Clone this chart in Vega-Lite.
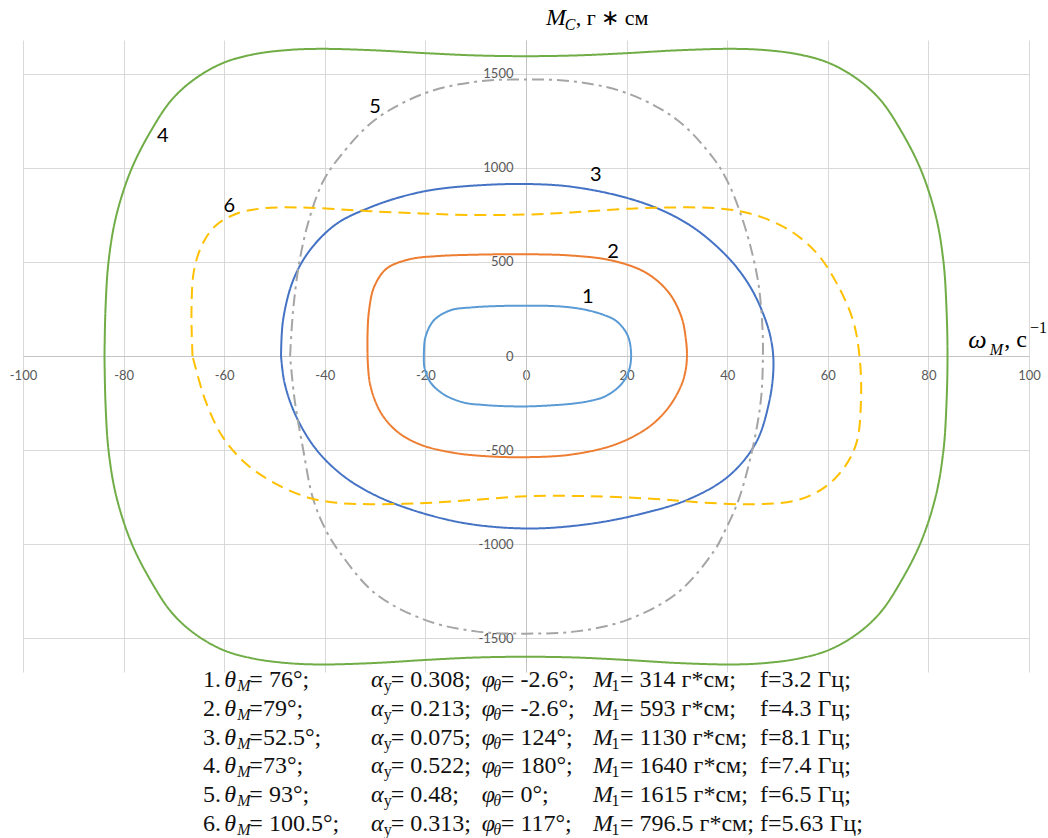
{
  "$schema": "https://vega.github.io/schema/vega-lite/v6.json",
  "width": 1006,
  "height": 632,
  "autosize": {"type": "none"},
  "padding": {"left": 23, "top": 40, "right": 19, "bottom": 166},
  "background": "white",
  "config": {"view": {"stroke": null}},
  "resolve": {"scale": {"x": "independent", "y": "independent"}},
  "layer": [
    {
      "encoding": {
        "x": {"field": "w", "type": "quantitative",
          "scale": {"domain": [-100, 100], "nice": false, "zero": false},
          "axis": {"values": [-100, -80, -60, -40, -20, 0, 20, 40, 60, 80, 100], "labelExpr": "'' + datum.value", "offset": -316, "grid": true, "gridColor": "#d9d9d9", "gridWidth": 1, "domainColor": "#c4c4c4", "domainWidth": 1, "ticks": false, "labelPadding": 13, "labelFont": "Lato", "labelFontSize": 13, "labelColor": "#595959", "title": null, "labelOverlap": false, "labelFlush": false, "labelBound": false}},
        "y": {"field": "m", "type": "quantitative",
          "scale": {"domain": [-1680, 1680], "nice": false, "zero": false},
          "axis": {"values": [-1500, -1000, -500, 0, 500, 1000, 1500], "labelExpr": "'' + datum.value", "offset": -503, "grid": true, "gridColor": "#d9d9d9", "gridWidth": 1, "domainColor": "#c4c4c4", "domainWidth": 1, "ticks": false, "labelPadding": 13, "labelFont": "Lato", "labelFontSize": 13, "labelColor": "#595959", "title": null, "labelOverlap": false, "labelFlush": false, "labelBound": false}}
      },
      "layer": [
        {
          "data": {"values": [
            {"c":"1","i":0,"w":-20.3,"m":0},{"c":"1","i":1,"w":-20,"m":100},{"c":"1","i":2,"w":-18.3,"m":190},{"c":"1","i":3,"w":-15,"m":243},{"c":"1","i":4,"w":-11,"m":258},{"c":"1","i":5,"w":-5,"m":266},{"c":"1","i":6,"w":0,"m":267},{"c":"1","i":7,"w":5,"m":266},{"c":"1","i":8,"w":9,"m":258},{"c":"1","i":9,"w":12.3,"m":243},{"c":"1","i":10,"w":15.5,"m":218},{"c":"1","i":11,"w":18,"m":185},{"c":"1","i":12,"w":20.2,"m":110},{"c":"1","i":13,"w":20.9,"m":0},{"c":"1","i":14,"w":20.3,"m":-90},{"c":"1","i":15,"w":18.6,"m":-160},{"c":"1","i":16,"w":15.7,"m":-215},{"c":"1","i":17,"w":12.5,"m":-240},{"c":"1","i":18,"w":9,"m":-254},{"c":"1","i":19,"w":4,"m":-264},{"c":"1","i":20,"w":0,"m":-268},{"c":"1","i":21,"w":-5,"m":-266},{"c":"1","i":22,"w":-8.5,"m":-260},{"c":"1","i":23,"w":-12.3,"m":-248},{"c":"1","i":24,"w":-16.3,"m":-205},{"c":"1","i":25,"w":-19,"m":-140},{"c":"1","i":26,"w":-20.2,"m":-60},{"c":"1","i":27,"w":-20.3,"m":0},
            {"c":"2","i":0,"w":-31.5,"m":0},{"c":"2","i":1,"w":-31.5,"m":120},{"c":"2","i":2,"w":-31.2,"m":243},{"c":"2","i":3,"w":-30.2,"m":367},{"c":"2","i":4,"w":-27.7,"m":465},{"c":"2","i":5,"w":-23,"m":515},{"c":"2","i":6,"w":-17.7,"m":531},{"c":"2","i":7,"w":-11,"m":538},{"c":"2","i":8,"w":0,"m":541},{"c":"2","i":9,"w":9,"m":534},{"c":"2","i":10,"w":17,"m":508},{"c":"2","i":11,"w":23.7,"m":445},{"c":"2","i":12,"w":28.3,"m":340},{"c":"2","i":13,"w":30.9,"m":208},{"c":"2","i":14,"w":31.8,"m":85},{"c":"2","i":15,"w":32,"m":0},{"c":"2","i":16,"w":31.7,"m":-80},{"c":"2","i":17,"w":30.8,"m":-160},{"c":"2","i":18,"w":28.3,"m":-275},{"c":"2","i":19,"w":24.3,"m":-380},{"c":"2","i":20,"w":17.7,"m":-471},{"c":"2","i":21,"w":9,"m":-524},{"c":"2","i":22,"w":0,"m":-538},{"c":"2","i":23,"w":-7.7,"m":-533},{"c":"2","i":24,"w":-14.3,"m":-515},{"c":"2","i":25,"w":-21,"m":-471},{"c":"2","i":26,"w":-25.7,"m":-400},{"c":"2","i":27,"w":-29,"m":-295},{"c":"2","i":28,"w":-31,"m":-150},{"c":"2","i":29,"w":-31.5,"m":0},
            {"c":"3","i":0,"w":-48.7,"m":0},{"c":"3","i":1,"w":-48.3,"m":190},{"c":"3","i":2,"w":-46.3,"m":402},{"c":"3","i":3,"w":-43,"m":561},{"c":"3","i":4,"w":-37.7,"m":702},{"c":"3","i":5,"w":-31,"m":790},{"c":"3","i":6,"w":-24.3,"m":850},{"c":"3","i":7,"w":-17.7,"m":887},{"c":"3","i":8,"w":-7.7,"m":910},{"c":"3","i":9,"w":1,"m":914},{"c":"3","i":10,"w":9,"m":900},{"c":"3","i":11,"w":19,"m":848},{"c":"3","i":12,"w":27,"m":775},{"c":"3","i":13,"w":33.7,"m":675},{"c":"3","i":14,"w":40.3,"m":520},{"c":"3","i":15,"w":44.3,"m":380},{"c":"3","i":16,"w":47,"m":235},{"c":"3","i":17,"w":48.7,"m":90},{"c":"3","i":18,"w":49.2,"m":-56},{"c":"3","i":19,"w":48.3,"m":-250},{"c":"3","i":20,"w":45.7,"m":-462},{"c":"3","i":21,"w":40.3,"m":-638},{"c":"3","i":22,"w":32.3,"m":-762},{"c":"3","i":23,"w":22.3,"m":-843},{"c":"3","i":24,"w":12.3,"m":-894},{"c":"3","i":25,"w":1,"m":-917},{"c":"3","i":26,"w":-11,"m":-894},{"c":"3","i":27,"w":-21,"m":-832},{"c":"3","i":28,"w":-29.7,"m":-744},{"c":"3","i":29,"w":-36.3,"m":-638},{"c":"3","i":30,"w":-41.7,"m":-497},{"c":"3","i":31,"w":-45.7,"m":-321},{"c":"3","i":32,"w":-48,"m":-144},{"c":"3","i":33,"w":-48.7,"m":0},
            {"c":"4","i":0,"w":-83.8,"m":0},{"c":"4","i":1,"w":-83.6,"m":250},{"c":"4","i":2,"w":-83,"m":500},{"c":"4","i":3,"w":-81.5,"m":741},{"c":"4","i":4,"w":-78.5,"m":990},{"c":"4","i":5,"w":-74.5,"m":1200},{"c":"4","i":6,"w":-70.5,"m":1360},{"c":"4","i":7,"w":-66,"m":1470},{"c":"4","i":8,"w":-60.3,"m":1557},{"c":"4","i":9,"w":-54.3,"m":1603},{"c":"4","i":10,"w":-47.7,"m":1626},{"c":"4","i":11,"w":-41,"m":1633},{"c":"4","i":12,"w":-30,"m":1625},{"c":"4","i":13,"w":-20,"m":1610},{"c":"4","i":14,"w":-10,"m":1598},{"c":"4","i":15,"w":0,"m":1594},{"c":"4","i":16,"w":10,"m":1598},{"c":"4","i":17,"w":20,"m":1610},{"c":"4","i":18,"w":30,"m":1625},{"c":"4","i":19,"w":41,"m":1633},{"c":"4","i":20,"w":47.7,"m":1626},{"c":"4","i":21,"w":54.3,"m":1603},{"c":"4","i":22,"w":60.3,"m":1557},{"c":"4","i":23,"w":66,"m":1470},{"c":"4","i":24,"w":70.5,"m":1360},{"c":"4","i":25,"w":74.5,"m":1200},{"c":"4","i":26,"w":78.5,"m":990},{"c":"4","i":27,"w":81.5,"m":741},{"c":"4","i":28,"w":83,"m":500},{"c":"4","i":29,"w":83.6,"m":250},{"c":"4","i":30,"w":83.8,"m":0},{"c":"4","i":31,"w":83.6,"m":-250},{"c":"4","i":32,"w":83,"m":-500},{"c":"4","i":33,"w":81.5,"m":-741},{"c":"4","i":34,"w":78.5,"m":-990},{"c":"4","i":35,"w":74.5,"m":-1200},{"c":"4","i":36,"w":70.5,"m":-1362},{"c":"4","i":37,"w":66,"m":-1474},{"c":"4","i":38,"w":60.3,"m":-1562},{"c":"4","i":39,"w":54.3,"m":-1608},{"c":"4","i":40,"w":47.7,"m":-1632},{"c":"4","i":41,"w":41,"m":-1640},{"c":"4","i":42,"w":30,"m":-1632},{"c":"4","i":43,"w":20,"m":-1616},{"c":"4","i":44,"w":10,"m":-1603},{"c":"4","i":45,"w":0,"m":-1599},{"c":"4","i":46,"w":-10,"m":-1603},{"c":"4","i":47,"w":-20,"m":-1616},{"c":"4","i":48,"w":-30,"m":-1632},{"c":"4","i":49,"w":-41,"m":-1640},{"c":"4","i":50,"w":-47.7,"m":-1632},{"c":"4","i":51,"w":-54.3,"m":-1608},{"c":"4","i":52,"w":-60.3,"m":-1562},{"c":"4","i":53,"w":-66,"m":-1474},{"c":"4","i":54,"w":-70.5,"m":-1362},{"c":"4","i":55,"w":-74.5,"m":-1200},{"c":"4","i":56,"w":-78.5,"m":-990},{"c":"4","i":57,"w":-81.5,"m":-741},{"c":"4","i":58,"w":-83,"m":-500},{"c":"4","i":59,"w":-83.6,"m":-250},{"c":"4","i":60,"w":-83.8,"m":0},
            {"c":"5","i":0,"w":-46.9,"m":0},{"c":"5","i":1,"w":-46.3,"m":243},{"c":"5","i":2,"w":-45,"m":508},{"c":"5","i":3,"w":-43,"m":737},{"c":"5","i":4,"w":-40.3,"m":930},{"c":"5","i":5,"w":-37,"m":1060},{"c":"5","i":6,"w":-30,"m":1256},{"c":"5","i":7,"w":-20,"m":1398},{"c":"5","i":8,"w":-10,"m":1458},{"c":"5","i":9,"w":0,"m":1470},{"c":"5","i":10,"w":10,"m":1458},{"c":"5","i":11,"w":20,"m":1398},{"c":"5","i":12,"w":30,"m":1256},{"c":"5","i":13,"w":37.3,"m":1050},{"c":"5","i":14,"w":40.3,"m":915},{"c":"5","i":15,"w":43,"m":730},{"c":"5","i":16,"w":45,"m":543},{"c":"5","i":17,"w":46.3,"m":367},{"c":"5","i":18,"w":47,"m":155},{"c":"5","i":19,"w":47.1,"m":0},{"c":"5","i":20,"w":46.7,"m":-233},{"c":"5","i":21,"w":45,"m":-497},{"c":"5","i":22,"w":42.3,"m":-762},{"c":"5","i":23,"w":39.7,"m":-921},{"c":"5","i":24,"w":37.3,"m":-1040},{"c":"5","i":25,"w":30,"m":-1262},{"c":"5","i":26,"w":20,"m":-1404},{"c":"5","i":27,"w":10,"m":-1464},{"c":"5","i":28,"w":0,"m":-1476},{"c":"5","i":29,"w":-10,"m":-1464},{"c":"5","i":30,"w":-20,"m":-1404},{"c":"5","i":31,"w":-30,"m":-1262},{"c":"5","i":32,"w":-37,"m":-1045},{"c":"5","i":33,"w":-39.7,"m":-930},{"c":"5","i":34,"w":-42.3,"m":-762},{"c":"5","i":35,"w":-44.3,"m":-497},{"c":"5","i":36,"w":-46,"m":-233},{"c":"5","i":37,"w":-46.9,"m":0},
            {"c":"6","i":0,"w":-66.3,"m":0},{"c":"6","i":1,"w":-66.5,"m":243},{"c":"6","i":2,"w":-66,"m":455},{"c":"6","i":3,"w":-64.3,"m":596},{"c":"6","i":4,"w":-61.7,"m":693},{"c":"6","i":5,"w":-57.7,"m":755},{"c":"6","i":6,"w":-52.3,"m":785},{"c":"6","i":7,"w":-45.7,"m":790},{"c":"6","i":8,"w":-39,"m":783},{"c":"6","i":9,"w":-31,"m":770},{"c":"6","i":10,"w":-21,"m":758},{"c":"6","i":11,"w":-11,"m":750},{"c":"6","i":12,"w":0,"m":752},{"c":"6","i":13,"w":9,"m":763},{"c":"6","i":14,"w":19,"m":781},{"c":"6","i":15,"w":29,"m":790},{"c":"6","i":16,"w":39,"m":783},{"c":"6","i":17,"w":45.5,"m":750},{"c":"6","i":18,"w":52.3,"m":670},{"c":"6","i":19,"w":57.7,"m":550},{"c":"6","i":20,"w":61.7,"m":390},{"c":"6","i":21,"w":65,"m":190},{"c":"6","i":22,"w":66.3,"m":0},{"c":"6","i":23,"w":66.6,"m":-233},{"c":"6","i":24,"w":65.7,"m":-462},{"c":"6","i":25,"w":63,"m":-603},{"c":"6","i":26,"w":59,"m":-705},{"c":"6","i":27,"w":53.7,"m":-768},{"c":"6","i":28,"w":45.7,"m":-788},{"c":"6","i":29,"w":35.7,"m":-780},{"c":"6","i":30,"w":25.7,"m":-760},{"c":"6","i":31,"w":12.3,"m":-745},{"c":"6","i":32,"w":0,"m":-746},{"c":"6","i":33,"w":-11,"m":-766},{"c":"6","i":34,"w":-21,"m":-783},{"c":"6","i":35,"w":-31,"m":-788},{"c":"6","i":36,"w":-37.7,"m":-780},{"c":"6","i":37,"w":-43,"m":-755},{"c":"6","i":38,"w":-49.7,"m":-680},{"c":"6","i":39,"w":-55.7,"m":-572},{"c":"6","i":40,"w":-60.3,"m":-430},{"c":"6","i":41,"w":-63.7,"m":-240},{"c":"6","i":42,"w":-66.3,"m":0}
          ]},
          "mark": {"type": "line", "interpolate": "catmull-rom", "strokeWidth": 2},
          "encoding": {
            "color": {"field": "c", "type": "nominal", "scale": {"domain": ["1","2","3","4","5","6"], "range": ["#5B9BD5","#ED7D31","#4472C4","#70AD47","#A5A5A5","#FFC000"]}, "legend": null},
            "strokeDash": {"field": "c", "type": "nominal", "scale": {"domain": ["1","2","3","4","5","6"], "range": [[1,0],[1,0],[1,0],[1,0],[12,5,3,5],[12,7]]}, "legend": null},
            "order": {"field": "i", "type": "quantitative"}
          }
        },
        {
          "data": {"values": [
            {"t":"1","w":12.3,"m":314},{"t":"2","w":17.3,"m":553},{"t":"3","w":13.9,"m":963},{"t":"4","w":-72.2,"m":1170},{"t":"5","w":-30,"m":1324},{"t":"6","w":-59,"m":798}
          ]},
          "mark": {"type": "text", "font": "Lato", "fontSize": 20, "color": "#000000", "align": "center", "baseline": "middle"},
          "encoding": {"text": {"field": "t"}}
        },
        {
          "data": {"values": [{"t":"ω","w":87.9,"m":85}]},
          "mark": {"type": "text", "font": "Liberation Serif", "fontStyle": "italic", "fontSize": 26, "color": "#000000", "align": "left", "baseline": "middle"},
          "encoding": {"text": {"field": "t"}}
        },
        {
          "data": {"values": [{"t":"M","w":92.2,"m":32}]},
          "mark": {"type": "text", "font": "Liberation Serif", "fontStyle": "italic", "fontSize": 16, "color": "#000000", "align": "left", "baseline": "middle"},
          "encoding": {"text": {"field": "t"}}
        },
        {
          "data": {"values": [{"t":", с","w":95.1,"m":85}]},
          "mark": {"type": "text", "font": "Liberation Serif", "fontSize": 24, "color": "#000000", "align": "left", "baseline": "middle"},
          "encoding": {"text": {"field": "t"}}
        },
        {
          "data": {"values": [{"t":"−1","w":100.2,"m":150}]},
          "mark": {"type": "text", "font": "Liberation Serif", "fontSize": 16, "color": "#000000", "align": "left", "baseline": "middle"},
          "encoding": {"text": {"field": "t"}}
        },
        {
          "data": {"values": [{"t":"M","w":4.0,"m":1798}]},
          "mark": {"type": "text", "font": "Liberation Serif", "fontStyle": "italic", "fontSize": 24, "color": "#000000", "align": "left", "baseline": "middle"},
          "encoding": {"text": {"field": "t"}}
        },
        {
          "data": {"values": [{"t":"C","w":7.7,"m":1762}]},
          "mark": {"type": "text", "font": "Liberation Serif", "fontStyle": "italic", "fontSize": 16, "color": "#000000", "align": "left", "baseline": "middle"},
          "encoding": {"text": {"field": "t"}}
        },
        {
          "data": {"values": [{"t":", г ∗ см","w":9.9,"m":1798}]},
          "mark": {"type": "text", "font": "Liberation Serif", "fontSize": 22, "color": "#000000", "align": "left", "baseline": "middle"},
          "encoding": {"text": {"field": "t"}}
        }
      ]
    },
    {
      "data": {"values": [
        {"line":1,"n":"1.","th":"= 76°;","al":"= 0.308;","ph":"= -2.6°;","m1":"= 314 г*см;","f":"f=3.2 Гц;"},
        {"line":2,"n":"2.","th":"=79°;","al":"= 0.213;","ph":"= -2.6°;","m1":"= 593 г*см;","f":"f=4.3 Гц;"},
        {"line":3,"n":"3.","th":"=52.5°;","al":"= 0.075;","ph":"= 124°;","m1":"= 1130 г*см;","f":"f=8.1 Гц;"},
        {"line":4,"n":"4.","th":"=73°;","al":"= 0.522;","ph":"= 180°;","m1":"= 1640 г*см;","f":"f=7.4 Гц;"},
        {"line":5,"n":"5.","th":"= 93°;","al":"= 0.48;","ph":"= 0°;","m1":"= 1615 г*см;","f":"f=6.5 Гц;"},
        {"line":6,"n":"6.","th":"= 100.5°;","al":"= 0.313;","ph":"= 117°;","m1":"= 796.5 г*см;","f":"f=5.63 Гц;"}
      ]},
      "encoding": {
        "y": {"field": "line", "type": "quantitative", "scale": {"domain": [1, 6], "range": [640, 784], "nice": false, "zero": false}, "axis": null}
      },
      "layer": [
        {"mark": {"type": "text", "font": "Liberation Serif", "fontSize": 24, "color": "#111111", "align": "left", "baseline": "middle"},
         "encoding": {"x": {"datum": -64.2, "type": "quantitative", "scale": {"domain": [-100, 100], "nice": false, "zero": false}, "axis": null}, "text": {"field": "n"}}},
        {"mark": {"type": "text", "font": "Liberation Serif", "fontStyle": "italic", "fontSize": 24, "color": "#111111", "align": "left", "baseline": "middle"},
         "encoding": {"x": {"datum": -60.0, "type": "quantitative", "scale": {"domain": [-100, 100], "nice": false, "zero": false}, "axis": null}, "text": {"value": "θ"}}},
        {"mark": {"type": "text", "font": "Liberation Serif", "fontStyle": "italic", "fontSize": 16, "color": "#111111", "align": "left", "baseline": "middle", "dy": 6},
         "encoding": {"x": {"datum": -57.4, "type": "quantitative", "scale": {"domain": [-100, 100], "nice": false, "zero": false}, "axis": null}, "text": {"value": "M"}}},
        {"mark": {"type": "text", "font": "Liberation Serif", "fontSize": 24, "color": "#111111", "align": "left", "baseline": "middle"},
         "encoding": {"x": {"datum": -55.0, "type": "quantitative", "scale": {"domain": [-100, 100], "nice": false, "zero": false}, "axis": null}, "text": {"field": "th"}}},
        {"mark": {"type": "text", "font": "Liberation Serif", "fontStyle": "italic", "fontSize": 24, "color": "#111111", "align": "left", "baseline": "middle"},
         "encoding": {"x": {"datum": -30.8, "type": "quantitative", "scale": {"domain": [-100, 100], "nice": false, "zero": false}, "axis": null}, "text": {"value": "α"}}},
        {"mark": {"type": "text", "font": "Liberation Serif", "fontSize": 16, "color": "#111111", "align": "left", "baseline": "middle", "dy": 6},
         "encoding": {"x": {"datum": -28.3, "type": "quantitative", "scale": {"domain": [-100, 100], "nice": false, "zero": false}, "axis": null}, "text": {"value": "y"}}},
        {"mark": {"type": "text", "font": "Liberation Serif", "fontSize": 24, "color": "#111111", "align": "left", "baseline": "middle"},
         "encoding": {"x": {"datum": -26.9, "type": "quantitative", "scale": {"domain": [-100, 100], "nice": false, "zero": false}, "axis": null}, "text": {"field": "al"}}},
        {"mark": {"type": "text", "font": "Liberation Serif", "fontStyle": "italic", "fontSize": 24, "color": "#111111", "align": "left", "baseline": "middle"},
         "encoding": {"x": {"datum": -8.8, "type": "quantitative", "scale": {"domain": [-100, 100], "nice": false, "zero": false}, "axis": null}, "text": {"value": "φ"}}},
        {"mark": {"type": "text", "font": "Liberation Serif", "fontStyle": "italic", "fontSize": 16, "color": "#111111", "align": "left", "baseline": "middle", "dy": 6},
         "encoding": {"x": {"datum": -6.5, "type": "quantitative", "scale": {"domain": [-100, 100], "nice": false, "zero": false}, "axis": null}, "text": {"value": "θ"}}},
        {"mark": {"type": "text", "font": "Liberation Serif", "fontSize": 24, "color": "#111111", "align": "left", "baseline": "middle"},
         "encoding": {"x": {"datum": -5.0, "type": "quantitative", "scale": {"domain": [-100, 100], "nice": false, "zero": false}, "axis": null}, "text": {"field": "ph"}}},
        {"mark": {"type": "text", "font": "Liberation Serif", "fontStyle": "italic", "fontSize": 24, "color": "#111111", "align": "left", "baseline": "middle"},
         "encoding": {"x": {"datum": 13.3, "type": "quantitative", "scale": {"domain": [-100, 100], "nice": false, "zero": false}, "axis": null}, "text": {"value": "M"}}},
        {"mark": {"type": "text", "font": "Liberation Serif", "fontSize": 16, "color": "#111111", "align": "left", "baseline": "middle", "dy": 6},
         "encoding": {"x": {"datum": 17.0, "type": "quantitative", "scale": {"domain": [-100, 100], "nice": false, "zero": false}, "axis": null}, "text": {"value": "1"}}},
        {"mark": {"type": "text", "font": "Liberation Serif", "fontSize": 24, "color": "#111111", "align": "left", "baseline": "middle"},
         "encoding": {"x": {"datum": 18.7, "type": "quantitative", "scale": {"domain": [-100, 100], "nice": false, "zero": false}, "axis": null}, "text": {"field": "m1"}}},
        {"mark": {"type": "text", "font": "Liberation Serif", "fontSize": 24, "color": "#111111", "align": "left", "baseline": "middle"},
         "encoding": {"x": {"datum": 46.5, "type": "quantitative", "scale": {"domain": [-100, 100], "nice": false, "zero": false}, "axis": null}, "text": {"field": "f"}}}
      ]
    }
  ]
}
